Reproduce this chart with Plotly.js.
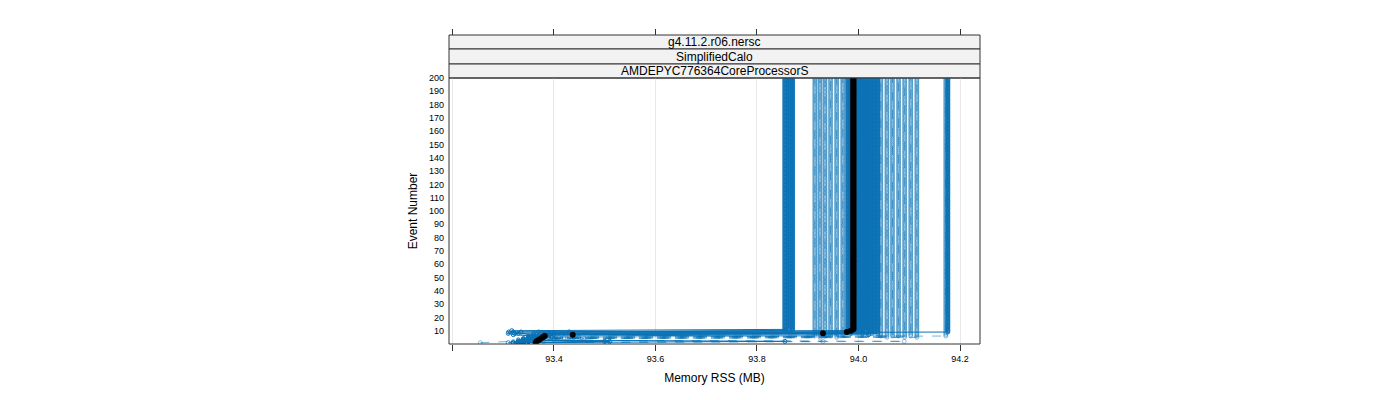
<!DOCTYPE html>
<html>
<head>
<meta charset="utf-8">
<script src="https://cdn.plot.ly/plotly-3.0.1.min.js"></script>
<style>html,body{margin:0;padding:0;background:#fff;}#chart{width:1400px;height:400px;}</style>
</head>
<body>
<div id="chart"></div>
<script>
// ---- data ----
const stripLabels = ["g4.11.2.r06.nersc", "SimplifiedCalo", "AMDEPYC776364CoreProcessorS"];
const eventCount = 200;
const yTickVals = [10,20,30,40,50,60,70,80,90,100,110,120,130,140,150,160,170,180,190,200];
const xTickVals = [93.2, 93.4, 93.6, 93.8, 94.0, 94.2];
const xTickText = ["", "93.4", "93.6", "93.8", "94.0", "94.2"];

// memory (MB) of each run at its first events, then the value it keeps up to event 200
const runEarly = [
  [93.33, 93.855, 93.34, 93.34, 93.35, 93.35, 93.36, 93.36, 93.37],
  [93.34, 93.35, 93.35, 93.36, 93.36, 93.37, 93.37, 93.33, 93.32, 93.317],
  [93.33, 93.34, 93.34, 93.35, 93.35, 93.36, 93.32, 93.31, 93.311],
  [93.33, 93.50, 93.34, 93.35, 93.36, 93.37, 93.38, 93.38],
  [93.34, 93.51, 93.35, 93.36, 93.37, 93.38, 93.38],
  [93.33, 93.34, 93.35, 93.36, 93.37, 93.38, 93.39, 93.39],
  [93.34, 93.35, 93.36, 93.37, 93.38, 93.38, 93.39, 93.40, 93.43],
  [93.33, 93.34, 93.35, 93.36, 93.36, 93.37, 93.38],
  [93.34, 93.35, 93.35, 93.36, 93.37, 93.38, 93.39, 93.323, 93.335],
  [93.33, 93.34, 93.34, 93.35, 93.36, 93.37],
  [93.34, 93.35, 93.36, 93.37, 93.38, 93.39, 93.40],
  [93.33, 93.34, 93.35, 93.36, 93.37, 93.38, 93.38, 93.39],
  [93.33, 93.34, 93.35, 93.36, 93.37, 93.38, 93.39],
  [93.34, 93.35, 93.36, 93.36, 93.37, 93.38, 93.38, 93.39],
  [93.31, 93.33, 93.34, 93.35, 93.36],
  [93.255, 93.32, 93.33, 93.34],
  [93.32, 93.93, 93.33, 93.34, 93.35],
  [93.33, 93.38, 93.40, 93.42, 93.44],
  [93.32, 93.34, 93.36, 93.40],
  [93.33, 93.35, 93.37, 93.39, 93.41, 93.43],
  [93.32, 93.33, 93.35, 93.37, 93.38],
  [93.33, 93.34, 93.36, 93.38],
  [93.31, 93.33, 93.45, 93.46, 93.45],
  [93.32, 93.34, 93.36, 93.37, 93.39],
  [93.32, 94.09, 93.33, 93.35],
  [93.33, 93.34, 93.35, 93.37, 93.39],
  [93.32, 93.34, 93.35, 93.36],
  [93.33, 93.35, 93.37, 93.40, 93.42]
];
const runSteady = [
  93.855, 93.862, 93.870, 93.979, 93.985, 93.997, 94.002, 94.008,
  94.014, 94.020, 94.026, 94.032, 94.038, 94.176,
  93.914, 93.924, 93.934, 93.945, 93.957, 93.969,
  94.044, 94.056, 94.067, 94.079, 94.091, 94.103, 94.115, 94.172
];
// line type of each run (style, kept apart from the values)
const runLineDash = [
  "solid","solid","solid","solid","solid","solid","solid","solid",
  "solid","solid","solid","solid","solid","solid",
  "dash","dash","dash","dash","dash","dash",
  "dash","dash","dash","dash","dash","dash","dash","dash"
];
// per-event median across runs (black points)
const medianEarly = [93.364, 93.366, 93.370, 93.374, 93.378, 93.382, 93.437, 93.93, 93.977, 93.985];
const medianSteady = 93.99;

// ---- build traces ----
const eventNumbers = [];
for (let e = 1; e <= eventCount; e++) eventNumbers.push(e);
function expand(early, steady) {
  return early.concat(new Array(eventCount - early.length).fill(steady));
}
const blue = "#0b72b5";
const blueLight = "rgba(11,114,181,0.55)";
const traces = [];
runEarly.forEach((early, i) => {
  const dashed = runLineDash[i] !== "solid";
  traces.push({
    type: "scatter", mode: "lines+markers",
    x: expand(early, runSteady[i]), y: eventNumbers,
    line: {color: dashed ? blueLight : blue, width: 1, dash: runLineDash[i]},
    marker: {symbol: "circle-open", size: 4, color: dashed ? blueLight : blue,
             line: {width: dashed ? 0.8 : 1, color: dashed ? blueLight : blue}},
    showlegend: false, hoverinfo: "skip"
  });
});
traces.push({
  type: "scatter", mode: "markers",
  x: expand(medianEarly, medianSteady), y: eventNumbers,
  marker: {symbol: "circle", size: 6, color: "#000"},
  showlegend: false, hoverinfo: "skip"
});
traces.push({type: "scatter", x: [], y: [], xaxis: "x2", yaxis: "y", showlegend: false});

const panelTop = 266 / 309;           // y domain top (paper)
const stripEdges = [panelTop, 280 / 309, 295 / 309, 1];
const shapes = [];
const annotations = [];
for (let k = 0; k < 3; k++) {
  const y0 = stripEdges[2 - k], y1 = stripEdges[3 - k];
  shapes.push({type: "rect", xref: "paper", yref: "paper", x0: 0, x1: 1, y0: y0, y1: y1,
    fillcolor: "#f2f2f2", line: {color: "#333", width: 1}, layer: "below"});
  annotations.push({xref: "paper", yref: "paper", x: 0.5, y: (y0 + y1) / 2, text: stripLabels[k],
    showarrow: false, font: {size: 12, color: "#000"}, xanchor: "center", yanchor: "middle"});
}
shapes.push({type: "rect", xref: "paper", yref: "paper", x0: 0, x1: 1, y0: 0, y1: panelTop,
  fillcolor: "rgba(0,0,0,0)", line: {color: "#333", width: 1}});

const layout = {
  width: 1400, height: 400,
  margin: {l: 449, r: 420, t: 35, b: 56, pad: 0},
  paper_bgcolor: "#fff", plot_bgcolor: "#fff",
  font: {family: "Liberation Sans, Arial, sans-serif", color: "#000"},
  showlegend: false,
  xaxis: {
    range: [93.1933, 94.2394], tickvals: xTickVals, ticktext: xTickText,
    ticks: "outside", ticklen: 6, tickcolor: "#333", tickfont: {size: 9},
    showgrid: true, gridcolor: "#e8e8e8", gridwidth: 1, zeroline: false, showline: false,
    title: {text: "Memory RSS (MB)", font: {size: 12}, standoff: 10}, automargin: false
  },
  xaxis2: {
    overlaying: "x", anchor: "free", position: 1, side: "top",
    range: [93.1933, 94.2394], tickvals: xTickVals, showticklabels: false,
    ticks: "outside", ticklen: 6, tickcolor: "#333", showgrid: false, zeroline: false, showline: false
  },
  yaxis: {
    domain: [0, panelTop], range: [0, 200], tickvals: yTickVals,
    ticks: "", tickfont: {size: 9}, ticklabelstandoff: 4,
    showgrid: false, zeroline: false, showline: false,
    title: {text: "Event Number", font: {size: 12}, standoff: 8}, automargin: false
  },
  shapes: shapes, annotations: annotations
};
Plotly.newPlot("chart", traces, layout, {displayModeBar: false, staticPlot: true});
</script>
</body>
</html>
